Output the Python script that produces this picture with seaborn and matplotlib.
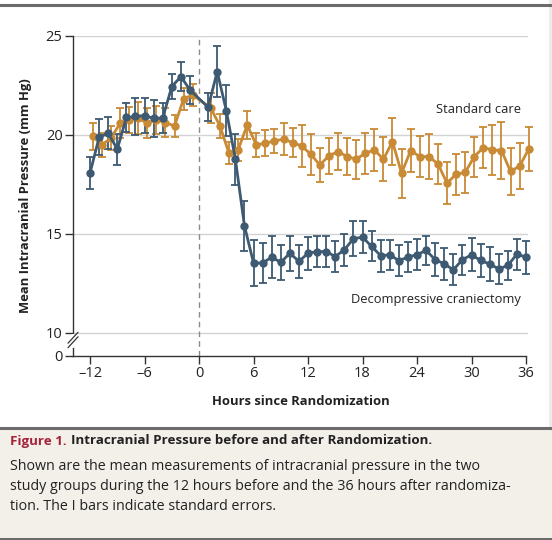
import matplotlib
matplotlib.use("Agg")
import matplotlib.pyplot as plt
import pandas as pd
import seaborn as sns
from matplotlib.lines import Line2D

hours = list(range(-12, 0)) + list(range(1, 37))

craniectomy_mean = [18.08, 19.88, 20.08, 19.28, 20.88, 20.93, 20.98, 20.83, 20.86, 22.44, 22.95, 22.27,
                    21.40, 23.20, 21.23, 18.77, 15.40, 13.52, 13.52, 13.82, 13.55, 14.02, 13.60, 14.02,
                    14.10, 14.10, 13.85, 14.19, 14.75, 14.83, 14.36, 13.89, 13.94, 13.64, 13.82, 13.94,
                    14.16, 13.69, 13.48, 13.18, 13.69, 13.94, 13.65, 13.47, 13.22, 13.40, 13.97, 13.82]
craniectomy_se = [0.82, 0.90, 0.80, 0.78, 0.74, 0.92, 0.88, 0.95, 0.75, 0.65, 0.72, 0.69,
                  0.70, 1.30, 1.30, 1.30, 1.25, 1.18, 1.03, 1.06, 0.87, 0.88, 0.84, 0.83,
                  0.80, 0.78, 0.80, 0.80, 0.88, 0.82, 0.76, 0.80, 0.76, 0.78, 0.74, 0.78,
                  0.73, 0.83, 0.80, 0.78, 0.76, 0.83, 0.82, 0.84, 0.76, 0.73, 0.78, 0.83]

standard_mean = [19.92, 19.50, 19.83, 20.59, 20.76, 20.84, 20.59, 20.76, 20.62, 20.45, 21.82, 22.02,
                 21.35, 20.45, 19.07, 19.24, 20.50, 19.50, 19.58, 19.70, 19.78, 19.61, 19.44, 19.02,
                 18.48, 18.94, 19.16, 18.90, 18.77, 19.07, 19.24, 18.77, 19.66, 18.06, 19.21, 18.90,
                 18.90, 18.54, 17.56, 18.01, 18.10, 18.90, 19.36, 19.24, 19.21, 18.15, 18.43, 19.28]
standard_se = [0.69, 0.60, 0.60, 0.76, 0.66, 0.82, 0.76, 0.72, 0.72, 0.55, 0.55, 0.55,
               0.76, 0.63, 0.55, 0.55, 0.73, 0.60, 0.67, 0.61, 0.82, 0.72, 1.07, 1.05,
               0.84, 0.90, 0.95, 0.93, 0.98, 1.05, 1.05, 1.12, 1.18, 1.24, 1.11, 1.05,
               1.12, 1.01, 1.07, 1.04, 1.04, 1.01, 1.04, 1.27, 1.42, 1.20, 1.18, 1.11]

groups = ["Standard care", "Decompressive craniectomy"]
colors = {"Standard care": "#c98a35", "Decompressive craniectomy": "#3d5a72"}
dodge = {"Standard care": 0.3, "Decompressive craniectomy": 0.0}

df = pd.concat([
    pd.DataFrame({"hour": hours, "icp": standard_mean, "se": standard_se, "group": groups[0]}),
    pd.DataFrame({"hour": hours, "icp": craniectomy_mean, "se": craniectomy_se, "group": groups[1]}),
], ignore_index=True)
df["x"] = df["hour"] + df["group"].map(dodge)

sns.set_theme(style="white")
plt.rcParams["font.family"] = ["Open Sans", "DejaVu Sans"]

W, H = 552, 540
fig = plt.figure(figsize=(W / 100, H / 100), dpi=100)
fig.patch.set_facecolor("white")

# axes box in pixels: left 73, right 528, top 36, bottom 356
ax = fig.add_axes([73 / W, 1 - 356 / H, (528 - 73) / W, (356 - 36) / H])
ax.set_facecolor("white")

y_zero = 8.82  # where the "0" of the broken axis sits
ax.set_xlim(-13.88, 36.22)
ax.set_ylim(y_zero, 25)

for yv in [10, 15, 20, 25]:
    ax.axhline(yv, color="#d3d3d3", lw=1.0, zorder=0)
ax.axvline(0, color="#8a8a8a", lw=1.0, ls=(0, (4, 3)), zorder=1)

for g in groups:
    sub = df[df["group"] == g]
    ax.errorbar(sub["x"], sub["icp"], yerr=sub["se"], fmt="none", ecolor=colors[g],
                elinewidth=1.3, capsize=2.8, capthick=1.3, zorder=2, clip_on=False)
sns.lineplot(data=df, x="x", y="icp", hue="group", hue_order=groups, palette=colors,
             marker="o", markersize=6, markeredgewidth=0, linewidth=2.0, legend=False,
             estimator=None, sort=True, ax=ax, zorder=3, clip_on=False)

ax.set_xticks([-12, -6, 0, 6, 12, 18, 24, 30, 36])
ax.set_xticklabels(["\u201312", "\u20136", "0", "6", "12", "18", "24", "30", "36"])
ax.set_yticks([y_zero, 10, 15, 20, 25])
ax.set_yticklabels(["0", "10", "15", "20", "25"])
ax.tick_params(axis="both", direction="out", length=5.5, width=1.0, color="#333333",
               labelsize=10.5, labelcolor="#222222", pad=2, bottom=True, left=True)

for s in ["top", "right"]:
    ax.spines[s].set_visible(False)
for s in ["left", "bottom"]:
    ax.spines[s].set_color("#333333")
    ax.spines[s].set_linewidth(1.0)
ax.spines["bottom"].set_bounds(-13.88, 36)

ax.set_xlabel("Hours since Randomization", fontsize=9.4, fontweight="bold", color="#222222", labelpad=10)
ax.set_ylabel("Mean Intracranial Pressure (mm Hg)", fontsize=9.4, fontweight="bold", color="#222222", labelpad=10)

# axis break marks
ax.add_line(Line2D([0.0, 0.0], [0.032, 0.062], transform=ax.transAxes, color="white", lw=3, clip_on=False, zorder=5))
for dy in [0.0, 0.014]:
    ax.add_line(Line2D([-0.011, 0.011], [0.026 + dy, 0.060 + dy], transform=ax.transAxes,
                       color="#333333", lw=0.9, clip_on=False, zorder=6))

ax.text(35.4, 21.26, "Standard care", ha="right", va="center", fontsize=9.3, color="#222222")
ax.text(35.4, 11.7, "Decompressive craniectomy", ha="right", va="center", fontsize=9.3, color="#222222")

# frame lines and caption panel
fig.add_artist(Line2D([0, 1], [1 - 4.5 / H, 1 - 4.5 / H], transform=fig.transFigure, color="#6b6b6b", lw=2.2))
fig.add_artist(plt.Rectangle((548.5 / W, 6 / H), 3.5 / W, 1, transform=fig.transFigure,
                             facecolor="#ececec", edgecolor="none", zorder=0))
fig.add_artist(plt.Rectangle((0, 0), 1, (H - 428) / H, transform=fig.transFigure,
                             facecolor="#f3f0ea", edgecolor="none", zorder=0))
fig.add_artist(Line2D([0, 1], [1 - 428 / H, 1 - 428 / H], transform=fig.transFigure, color="#6b6b6b", lw=2.2))
fig.add_artist(Line2D([0, 1], [1 - 538.5 / H, 1 - 538.5 / H], transform=fig.transFigure, color="#6b6b6b", lw=2.2))

cap_size = 10.3
title_size = 9.6
t1 = fig.text(10 / W, 1 - 441 / H, "Figure 1.", fontsize=title_size, fontweight="bold", color="#a3233a", va="center")
fig.canvas.draw()
bb = t1.get_window_extent()
fig.text((bb.x1 + 4) / W, 1 - 441 / H, "Intracranial Pressure before and after Randomization.",
         fontsize=title_size, fontweight="bold", color="#222222", va="center")
body = ["Shown are the mean measurements of intracranial pressure in the two",
        "study groups during the 12 hours before and the 36 hours after randomiza-",
        "tion. The I bars indicate standard errors."]
for i, line in enumerate(body):
    fig.text(10 / W, 1 - (466 + 20 * i) / H, line, fontsize=cap_size, color="#222222", va="center")

fig.savefig("out.png", dpi=100)
